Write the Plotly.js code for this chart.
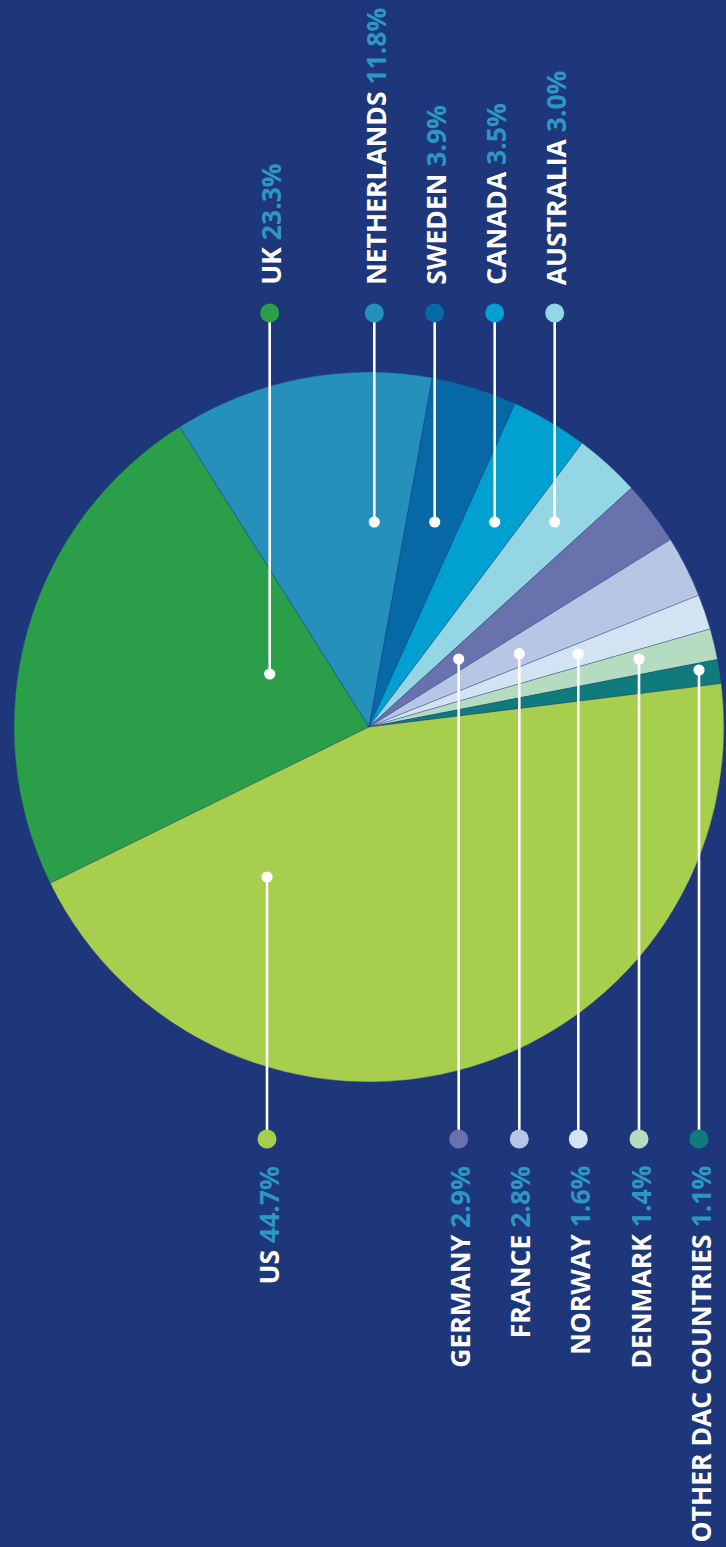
<!DOCTYPE html>
<html>
<head>
<meta charset="utf-8">
<script src="https://cdn.plot.ly/plotly-3.0.1.min.js"></script>
<style>
  html, body { margin: 0; padding: 0; background: #1e377a; }
  #chart { width: 726px; height: 1547px; }
</style>
</head>
<body>
<div id="chart"></div>
<script>
// ---- data ----
const countries = ['UK', 'NETHERLANDS', 'SWEDEN', 'CANADA', 'AUSTRALIA', 'GERMANY', 'FRANCE', 'NORWAY', 'DENMARK', 'OTHER DAC COUNTRIES', 'US'];
const shares = [23.3, 11.8, 3.9, 3.5, 3.0, 2.9, 2.8, 1.6, 1.4, 1.1, 44.7];
const shareLabels = ['23.3%', '11.8%', '3.9%', '3.5%', '3.0%', '2.9%', '2.8%', '1.6%', '1.4%', '1.1%', '44.7%'];

// ---- styles ----
const sliceColors = ['#2b9e4a', '#2590bb', '#0669a5', '#00a0d1', '#94d6e3', '#6a72ae', '#b8c6e6', '#d4e3f3', '#b4dcc1', '#0f7b7c', '#a7ce4c'];
const bg = '#1e377a';
const pctColor = '#2d96c3';

// ---- callout layout (pixel positions) ----
const W = 726, H = 1547;
const calloutX = [269.7, 374.3, 434.7, 494.7, 554.7, 458.7, 519.3, 578.3, 639, 699, 267];
const calloutSide = ['top', 'top', 'top', 'top', 'top', 'bottom', 'bottom', 'bottom', 'bottom', 'bottom', 'bottom'];
const innerDotY = [674, 522, 522, 522, 522, 659, 653.7, 654, 659, 670, 877];
const topDotY = 313, bottomDotY = 1139;
const topTextY = 285, bottomTextY = 1166;
const outerR = 9.5, innerR = 5.6;

const px = x => x / W;
const py = y => 1 - y / H;

const pie = {
  type: 'pie',
  labels: countries,
  values: shares,
  sort: false,
  direction: 'clockwise',
  rotation: -116.1,
  textinfo: 'none',
  hoverinfo: 'label+percent',
  marker: { colors: sliceColors, line: { color: 'rgba(30,55,122,0.55)', width: 0.6 } },
  domain: { x: [px(14), px(724)], y: [py(1082), py(372)] },
  showlegend: false
};

const shapes = [];
const annotations = [];
countries.forEach((c, i) => {
  const x = calloutX[i];
  const dotY = calloutSide[i] === 'top' ? topDotY : bottomDotY;
  shapes.push({ type: 'line', xref: 'paper', yref: 'paper', layer: 'above',
    x0: px(x), x1: px(x), y0: py(dotY), y1: py(innerDotY[i]),
    line: { color: '#ffffff', width: 2.6 } });
  shapes.push({ type: 'circle', xref: 'paper', yref: 'paper', layer: 'above',
    x0: px(x - innerR), x1: px(x + innerR), y0: py(innerDotY[i] + innerR), y1: py(innerDotY[i] - innerR),
    fillcolor: '#ffffff', line: { width: 0 } });
  shapes.push({ type: 'circle', xref: 'paper', yref: 'paper', layer: 'above',
    x0: px(x - outerR), x1: px(x + outerR), y0: py(dotY + outerR), y1: py(dotY - outerR),
    fillcolor: sliceColors[i], line: { width: 0 } });
  const isTop = calloutSide[i] === 'top';
  annotations.push({
    xref: 'paper', yref: 'paper',
    x: px(x + 1), y: py(isTop ? topTextY : bottomTextY),
    xanchor: 'center', yanchor: isTop ? 'bottom' : 'top',
    textangle: -90, showarrow: false, borderpad: 0, borderwidth: 0,
    text: '<b>' + c + '</b> <span style="color:' + pctColor + ';font-weight:bold">' + shareLabels[i] + '</span>',
    font: { family: 'Open Sans, sans-serif', size: 26.5, color: '#ffffff' }
  });
});

const layout = {
  width: W, height: H,
  margin: { l: 0, r: 0, t: 0, b: 0 },
  paper_bgcolor: bg, plot_bgcolor: bg,
  showlegend: false,
  shapes: shapes,
  annotations: annotations
};

Plotly.newPlot('chart', [pie], layout, { displayModeBar: false, staticPlot: true });
</script>
</body>
</html>
